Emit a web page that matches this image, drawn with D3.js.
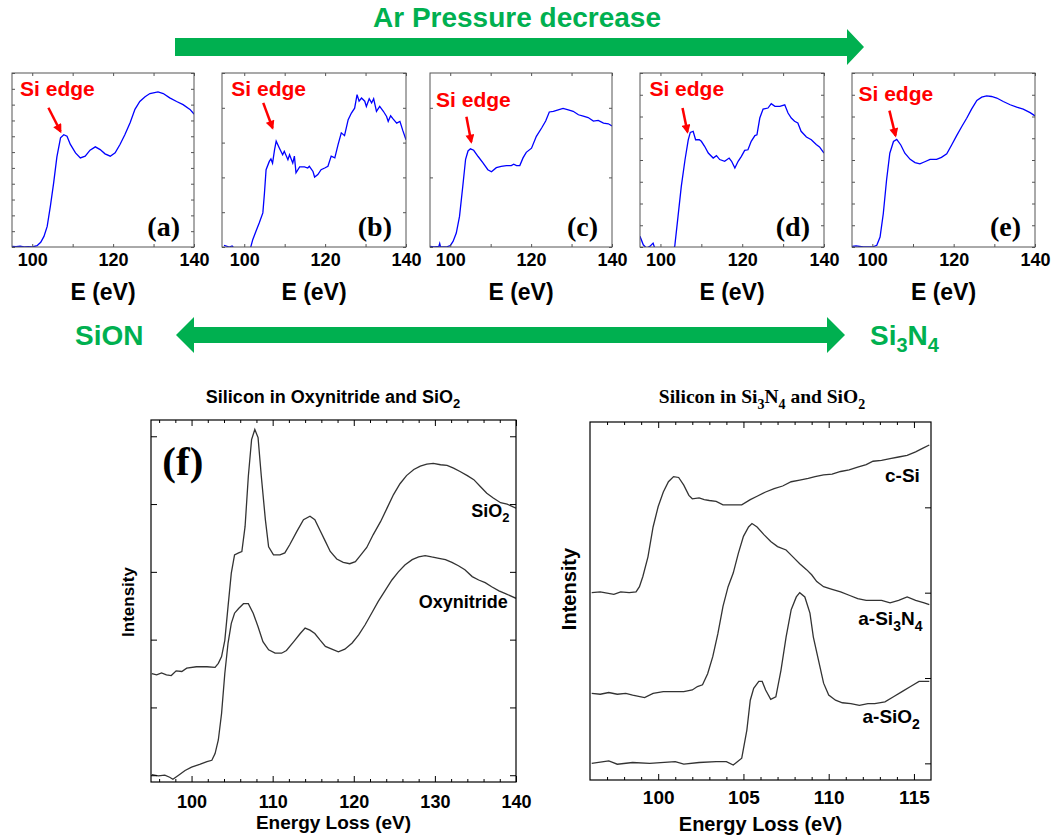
<!DOCTYPE html>
<html>
<head>
<meta charset="utf-8">
<script src="https://cdn.jsdelivr.net/npm/d3@7"></script>
<style>
  body { margin: 0; background: #fff; }
  svg text { font-family: Arial, "Liberation Sans", sans-serif; font-weight: bold; }
  svg text.serif { font-family: "Times New Roman", "Liberation Serif", serif; }
</style>
</head>
<body>
<svg id="fig" width="1057" height="839"></svg>
<script>
// ---- data: [energy (eV), intensity (arb.)] ----
var specA = [[95,0.04],[96,0.02],[97,0.06],[98,0.01],[99,0.02],[100,0],[101.2,0.08],[102.1,0.3],[102.9,0.67],[103.7,1.3],[104.5,2.6],[105.3,4.05],[106.1,5.7],[107,6.9],[107.8,7.1],[108.6,7.0],[109.4,6.5],[110.7,5.95],[111.9,5.63],[113.1,5.74],[114.3,6.12],[115.6,6.33],[116.8,6.16],[118,5.89],[119.3,5.74],[120.5,5.95],[121.7,6.48],[122.9,7.1],[124.2,7.85],[125.4,8.7],[126.6,9.2],[127.9,9.5],[129.1,9.7],[131.1,9.8],[132.4,9.7],[134,9.43],[135.7,9.2],[137.3,9.0],[139,8.7],[140,8.4]];
var specB = [[95,0.05],[96.3,0.0],[97,0.03],[98,-0.1],[100,-0.2],[101.5,-0.05],[102.1,0.21],[102.9,0.45],[103.7,0.69],[104.6,0.98],[105,1.55],[105.4,2.22],[106.2,2.46],[106.6,2.53],[107,2.41],[107.5,2.8],[107.9,3.04],[108.7,2.84],[109.5,2.65],[109.9,2.75],[110.8,2.51],[111.2,2.65],[112,2.41],[112.4,2.61],[112.8,2.13],[113.7,2.3],[114.9,2.3],[115.7,2.27],[116.1,2.32],[117,2.17],[117.4,2.01],[118.2,2.08],[119,2.22],[119.9,2.27],[120.7,2.32],[121.5,2.61],[122.4,2.56],[123.2,2.94],[124,3.28],[124.8,3.2],[125.7,3.66],[126.5,3.85],[127.3,3.99],[127.9,4.38],[128.4,4.19],[129,4.28],[129.8,4.19],[130.2,4.04],[130.9,4.26],[131.5,4.14],[132,4.26],[132.7,3.9],[133.5,4.04],[134.4,3.9],[135.2,3.75],[135.6,3.61],[136.2,3.77],[136.8,3.68],[137.7,3.56],[138.5,3.61],[139.2,3.35],[140,3.08]];
var specC = [[94.9,0.01],[96,0.0],[97.2,0.01],[97.4,0.05],[97.6,0.0],[99,0.0],[100,0.02],[100.7,0.08],[101.5,0.2],[102.3,0.44],[103.1,0.87],[103.8,1.26],[104.4,1.38],[105,1.41],[105.8,1.39],[106.9,1.3],[108.1,1.21],[109.3,1.11],[110.2,1.08],[111.4,1.14],[112.6,1.16],[113.9,1.17],[115.1,1.17],[115.7,1.19],[116.4,1.17],[117.2,1.17],[118,1.28],[118.8,1.36],[120.1,1.42],[121.3,1.59],[122.6,1.71],[123.6,1.81],[124.5,1.94],[125.5,1.95],[126.7,1.97],[127.9,1.99],[129.2,1.97],[130.4,1.95],[131.7,1.9],[132.9,1.88],[134.1,1.86],[135.4,1.81],[136.6,1.82],[137.9,1.78],[139.1,1.77],[140,1.74]];
var specD = [[95,0.49],[95.8,0.1],[96.6,-0.05],[97.4,0.03],[98.2,0.18],[98.6,-0.05],[99.8,-0.12],[103.1,-0.12],[103.5,0.03],[104.3,1.41],[105.1,2.79],[106,4.0],[106.8,4.93],[107.3,5.27],[108,5.32],[108.6,4.93],[109.5,4.93],[110,4.86],[110.8,4.63],[111.7,4.32],[112.9,4.09],[113.7,4.2],[114.5,4.02],[115.7,3.94],[116.8,4.09],[117.4,3.94],[118.2,3.63],[119,3.94],[119.8,4.17],[120.6,4.44],[121.4,4.47],[122.2,4.86],[123.1,5.12],[123.6,5.16],[124.3,5.93],[125.1,6.34],[126.3,6.39],[127.1,6.59],[128,6.47],[129.2,6.47],[130.4,6.54],[131.2,6.16],[132,5.93],[132.8,5.78],[133.6,5.7],[134.4,5.32],[135.7,5.06],[136.9,4.93],[138.1,4.71],[138.9,4.6],[140,4.32]];
var specE = [[94.9,0.03],[96,0.05],[97.8,0.0],[100,0.0],[101.1,0.08],[101.9,0.46],[102.7,1.54],[103.5,3.08],[104.3,4.31],[105.2,4.85],[106,4.95],[107,4.69],[108,4.31],[109.3,4.03],[110.5,3.88],[111.7,3.82],[112.9,3.92],[114.2,4.03],[115.8,4.03],[117,4.12],[118.3,4.28],[119.5,4.69],[120.7,5.11],[122,5.54],[123.2,5.92],[124.4,6.34],[125.7,6.74],[126.9,6.89],[128.1,6.95],[129.3,6.92],[130.6,6.85],[132.2,6.69],[133.9,6.54],[135.5,6.43],[137.1,6.34],[138.8,6.18],[140,6.03]];

var specSiO2 = [[95.1,1.5],[95.7,1.48],[96.3,1.51],[96.9,1.48],[97.5,1.47],[98.1,1.54],[98.8,1.53],[99.4,1.58],[100.6,1.6],[101.9,1.6],[102.9,1.59],[103.3,1.65],[103.7,1.75],[104.1,1.99],[104.5,2.49],[104.9,2.98],[105.3,3.25],[105.8,3.28],[106.2,3.3],[106.6,3.67],[107,4.41],[107.4,4.95],[107.8,5.1],[108.2,4.98],[108.6,4.41],[109.1,3.77],[109.5,3.37],[110.1,3.25],[110.9,3.25],[111.5,3.28],[112.1,3.4],[113,3.6],[113.8,3.77],[114.6,3.82],[115.2,3.77],[115.8,3.62],[116.5,3.45],[117.1,3.3],[117.9,3.19],[118.7,3.14],[119.5,3.12],[120.2,3.15],[120.8,3.24],[121.6,3.36],[122.4,3.55],[123.3,3.74],[124.1,3.94],[124.9,4.14],[125.7,4.3],[126.5,4.42],[127.4,4.51],[128.2,4.56],[129,4.59],[129.8,4.6],[130.7,4.58],[131.5,4.57],[132.3,4.53],[133.1,4.48],[134,4.42],[134.8,4.36],[135.6,4.26],[136.4,4.16],[137.2,4.09],[138.1,4.02],[138.9,4.0],[140,3.94]];
var specOxy = [[95.1,0.01],[95.9,-0.01],[96.7,0],[97.3,-0.03],[97.7,-0.06],[98.4,0],[99.2,0.07],[100,0.12],[101,0.16],[101.9,0.2],[102.5,0.22],[102.9,0.32],[103.3,0.52],[103.7,0.91],[104.1,1.5],[104.5,1.95],[104.9,2.24],[105.3,2.39],[105.8,2.46],[106.4,2.53],[107,2.53],[107.6,2.39],[108.2,2.19],[108.8,1.97],[109.5,1.85],[110.3,1.8],[111.1,1.8],[111.7,1.84],[112.6,1.97],[113.4,2.09],[114,2.17],[114.6,2.14],[115.2,2.09],[115.8,2.0],[116.5,1.9],[117.3,1.86],[118.1,1.82],[118.9,1.86],[119.8,1.95],[120.6,2.07],[121.4,2.22],[122.2,2.39],[123,2.56],[123.9,2.73],[124.7,2.88],[125.5,3.0],[126.3,3.1],[127.2,3.18],[128,3.22],[128.8,3.24],[129.6,3.22],[130.5,3.2],[131.3,3.18],[132.1,3.14],[132.9,3.09],[133.7,3.03],[134.6,2.93],[135.4,2.88],[136.2,2.84],[137,2.78],[137.9,2.72],[138.7,2.68],[140,2.61]];

var specCSi = [[96.1,2.0],[96.6,2.01],[97.4,1.98],[97.8,2.01],[98.3,2.0],[98.7,2.01],[98.9,2.07],[99.1,2.19],[99.4,2.42],[99.7,2.77],[100,3.01],[100.3,3.18],[100.6,3.3],[100.9,3.36],[101.2,3.35],[101.5,3.26],[101.8,3.14],[102,3.1],[102.4,3.11],[102.7,3.09],[103,3.08],[103.4,3.07],[103.8,3.03],[104.3,3.03],[104.9,3.03],[105.4,3.09],[105.8,3.13],[106.3,3.18],[106.8,3.22],[107.3,3.25],[107.8,3.3],[108.3,3.32],[108.8,3.34],[109.2,3.36],[109.7,3.38],[110.2,3.39],[110.7,3.42],[111.2,3.44],[111.7,3.47],[112.2,3.5],[112.6,3.54],[113.1,3.55],[113.6,3.57],[114.1,3.59],[114.6,3.61],[115.1,3.65],[115.5,3.69],[115.9,3.73]];
var specSiN = [[96.1,0.82],[96.6,0.81],[97.1,0.83],[97.6,0.81],[98.1,0.82],[98.5,0.8],[99.2,0.77],[99.7,0.82],[100.3,0.84],[100.9,0.84],[101.5,0.84],[102,0.86],[102.3,0.9],[102.6,0.92],[102.9,1.05],[103.2,1.25],[103.5,1.52],[103.8,1.84],[104.1,2.07],[104.4,2.23],[104.7,2.46],[105,2.66],[105.3,2.77],[105.5,2.81],[105.8,2.77],[106.2,2.68],[106.6,2.6],[107,2.54],[107.5,2.5],[107.9,2.42],[108.3,2.34],[108.7,2.27],[109,2.21],[109.3,2.13],[109.7,2.07],[110.2,2.04],[110.7,2.01],[111.2,1.97],[111.7,1.93],[112.2,1.91],[112.6,1.91],[113.1,1.91],[113.6,1.88],[114.1,1.91],[114.6,1.95],[115.1,1.91],[115.6,1.88],[115.9,1.86]];
var specASiO2 = [[96.1,0],[97.1,0.03],[97.6,-0.01],[98.5,0.01],[99.5,0],[101,0.02],[101.5,-0.01],[102.4,0.01],[103.4,0.02],[104,0.02],[104.4,-0.02],[104.9,0.06],[105.2,0.39],[105.4,0.74],[105.6,0.88],[105.9,0.96],[106.1,0.96],[106.3,0.86],[106.6,0.75],[106.9,0.78],[107.2,1.09],[107.5,1.48],[107.8,1.8],[108.1,1.95],[108.3,2.0],[108.6,1.95],[108.9,1.76],[109.1,1.48],[109.4,1.21],[109.7,0.94],[110,0.8],[110.4,0.74],[110.8,0.71],[111.3,0.7],[111.8,0.68],[112.3,0.7],[112.7,0.7],[113.3,0.72],[113.8,0.78],[114.3,0.84],[114.8,0.9],[115.3,0.96],[115.9,0.96]];

// ticks
var topTicks = [100, 110, 120, 130, 140];
var topTickLabels = [100, 120, 140];
var fTicksMajor = [100, 110, 120, 130, 140];
var fTicksMinor = [96, 98, 102, 104, 106, 108, 112, 114, 116, 118, 122, 124, 126, 128, 132, 134, 136, 138];
var gTicksMajor = [100, 105, 110, 115];
var gTicksMinor = [97, 98, 99, 101, 102, 103, 104, 106, 107, 108, 109, 111, 112, 113, 114];

var svg = d3.select("#fig");
var green = "#00b050";

var defs = svg.append("defs");
defs.append("marker")
    .attr("id", "redHead")
    .attr("viewBox", "0 0 10 10")
    .attr("refX", 8).attr("refY", 5)
    .attr("markerWidth", 10).attr("markerHeight", 9)
    .attr("markerUnits", "userSpaceOnUse")
    .attr("orient", "auto")
    .append("path")
    .attr("d", "M0,0 L10,5 L0,10 Z")
    .attr("fill", "#ff0000");

var clipCount = 0;
function clipTo(g, x, y) {
    var id = "clip" + (clipCount++);
    g.append("clipPath").attr("id", id)
        .append("rect")
        .attr("x", x.range()[0]).attr("y", y.range()[1])
        .attr("width", x.range()[1] - x.range()[0])
        .attr("height", y.range()[0] - y.range()[1]);
    return "url(#" + id + ")";
}

function styleAxis(sel, col, fs) {
    sel.select(".domain").remove();
    sel.selectAll(".tick line").attr("stroke", col);
    sel.selectAll(".tick text").attr("fill", "#000").style("font-size", fs + "px");
}

// ---- top row: panels (a)-(e) ----
function topPanel(p) {
    var x = d3.scaleLinear().domain(p.xDom).range([p.left, p.right]);
    var y = d3.scaleLinear().domain([0, p.yMax]).range([247, 73]);
    var g = svg.append("g");
    var col = "#555";

    g.append("path").datum(p.spec)
        .attr("clip-path", clipTo(g, x, y))
        .attr("fill", "none")
        .attr("stroke", "#0000ff")
        .attr("stroke-width", 1.3)
        .attr("d", d3.line().x(function(d) { return x(d[0]); }).y(function(d) { return y(d[1]); }));

    var yt = d3.range(0, p.yMax + 0.01, 1);
    g.append("g").attr("transform", "translate(0,247)")
        .call(d3.axisBottom(x).tickValues(topTicks).tickSize(-3).tickSizeOuter(0).tickPadding(6)
            .tickFormat(function(d) { return topTickLabels.indexOf(d) >= 0 ? d : ""; }))
        .call(styleAxis, col, 18);
    g.append("g").attr("transform", "translate(0,73)")
        .call(d3.axisTop(x).tickValues(topTicks).tickSize(-3).tickSizeOuter(0).tickFormat(""))
        .call(styleAxis, col, 18);
    g.append("g").attr("transform", "translate(" + p.left + ",0)")
        .call(d3.axisLeft(y).tickValues(yt).tickSize(-3).tickSizeOuter(0).tickFormat(""))
        .call(styleAxis, col, 18);
    g.append("g").attr("transform", "translate(" + p.right + ",0)")
        .call(d3.axisRight(y).tickValues(yt).tickSize(-3).tickSizeOuter(0).tickFormat(""))
        .call(styleAxis, col, 18);

    g.append("rect")
        .attr("x", p.left).attr("y", 73)
        .attr("width", p.right - p.left).attr("height", 174)
        .attr("fill", "none").attr("stroke", col).attr("stroke-width", 1);

    g.append("text")
        .attr("x", (p.left + p.right) / 2).attr("y", 300)
        .attr("text-anchor", "middle")
        .style("font-size", "23px")
        .text("E (eV)");

    g.append("text").attr("class", "serif")
        .attr("x", p.right - 14).attr("y", 236)
        .attr("text-anchor", "end")
        .style("font-size", "28px")
        .text(p.name);

    // "Si edge" note + red arrow
    g.append("text")
        .attr("x", x(p.note[0])).attr("y", y(p.note[1]))
        .attr("fill", "#ff0000")
        .style("font-size", "21px")
        .text("Si edge");
    g.append("line")
        .attr("x1", x(p.arrow[0])).attr("y1", y(p.arrow[1]))
        .attr("x2", x(p.arrow[2])).attr("y2", y(p.arrow[3]))
        .attr("stroke", "#ff0000").attr("stroke-width", 2.5)
        .attr("marker-end", "url(#redHead)");
}

topPanel({ left: 12,  right: 194,  xDom: [95, 140],   yMax: 11,  spec: specA, name: "(a)", note: [97, 9.56],   arrow: [104, 8.8, 107, 7.3] });
topPanel({ left: 222, right: 406,  xDom: [94.5, 140], yMax: 5,   spec: specB, name: "(b)", note: [96.8, 4.34], arrow: [104.7, 4.14, 107, 3.42] });
topPanel({ left: 430, right: 612,  xDom: [95, 140],   yMax: 2.5, spec: specC, name: "(c)", note: [96.5, 2.01], arrow: [104, 1.87, 105.2, 1.51] });
topPanel({ left: 640, right: 824,  xDom: [95, 140],   yMax: 8,   spec: specD, name: "(d)", note: [97.3, 6.94], arrow: [105.4, 6.39, 106.6, 5.29] });
topPanel({ left: 852, right: 1035, xDom: [95, 140],   yMax: 8,   spec: specE, name: "(e)", note: [96.6, 6.73], arrow: [104.2, 6.27, 105.7, 5.12] });

// ---- green annotations ----
svg.append("text")
    .attr("x", 517).attr("y", 27)
    .attr("text-anchor", "middle")
    .attr("fill", green)
    .style("font-size", "28px")
    .text("Ar Pressure decrease");

svg.append("path")
    .attr("d", "M175,38 L847,38 L847,29 L864,47 L847,65 L847,56 L175,56 Z")
    .attr("fill", green);

svg.append("path")
    .attr("d", "M176,335 L194,317 L194,327 L827,327 L827,317 L845,335 L827,353 L827,343 L194,343 L194,353 Z")
    .attr("fill", green);

svg.append("text")
    .attr("x", 75).attr("y", 345)
    .attr("fill", green)
    .style("font-size", "28px")
    .text("SiON");

var si3n4 = svg.append("text")
    .attr("x", 870).attr("y", 345)
    .attr("fill", green)
    .style("font-size", "28px");
si3n4.append("tspan").text("Si");
si3n4.append("tspan").attr("dy", 7).style("font-size", "20px").text("3");
si3n4.append("tspan").attr("dy", -7).text("N");
si3n4.append("tspan").attr("dy", 7).style("font-size", "20px").text("4");

// ---- bottom panels ----
// parts: plain strings, or {sub: "2"} for a subscript
function subText(g, x, y, parts, fs, anchor, cls) {
    var t = g.append("text").attr("x", x).attr("y", y)
        .attr("text-anchor", anchor || "start")
        .style("font-size", fs + "px");
    if (cls) t.attr("class", cls);
    var shift = 0;
    parts.forEach(function(s) {
        if (typeof s === "string") {
            t.append("tspan").attr("dy", -shift).text(s);
            shift = 0;
        } else {
            var d = Math.round(fs * 0.3);
            t.append("tspan").attr("dy", d - shift).style("font-size", Math.round(fs * 0.72) + "px").text(s.sub);
            shift = d;
        }
    });
    return t;
}

function bottomPanel(p) {
    var x = d3.scaleLinear().domain(p.xDom).range([p.left, p.right]);
    var y = d3.scaleLinear().domain(p.yDom).range([p.bottom, p.top]);
    var g = svg.append("g");
    var line = d3.line().x(function(d) { return x(d[0]); }).y(function(d) { return y(d[1]); });
    var clip = clipTo(g, x, y);

    p.series.forEach(function(s) {
        g.append("path").datum(s)
            .attr("clip-path", clip)
            .attr("fill", "none")
            .attr("stroke", "#333")
            .attr("stroke-width", 1.3)
            .attr("d", line);
    });

    var bx = g.append("g").attr("transform", "translate(0," + p.bottom + ")");
    bx.append("g").call(d3.axisBottom(x).tickValues(p.major).tickSize(-6).tickSizeOuter(0).tickPadding(p.pad).tickFormat(d3.format("d")))
        .call(styleAxis, "#000", p.tickFs);
    bx.append("g").call(d3.axisBottom(x).tickValues(p.minor).tickSize(-3).tickSizeOuter(0).tickFormat(""))
        .call(styleAxis, "#000", p.tickFs);
    var tx = g.append("g").attr("transform", "translate(0," + p.top + ")");
    tx.append("g").call(d3.axisTop(x).tickValues(p.major).tickSize(-6).tickSizeOuter(0).tickFormat(""))
        .call(styleAxis, "#000", p.tickFs);
    tx.append("g").call(d3.axisTop(x).tickValues(p.minor).tickSize(-3).tickSizeOuter(0).tickFormat(""))
        .call(styleAxis, "#000", p.tickFs);
    if (p.leftTicks) {
        g.append("g").attr("transform", "translate(" + p.left + ",0)")
            .call(d3.axisLeft(y).tickValues(p.yTicks).tickSize(-6).tickSizeOuter(0).tickFormat(""))
            .call(styleAxis, "#000", p.tickFs);
    }
    g.append("g").attr("transform", "translate(" + p.right + ",0)")
        .call(d3.axisRight(y).tickValues(p.yTicks).tickSize(-6).tickSizeOuter(0).tickFormat(""))
        .call(styleAxis, "#000", p.tickFs);

    g.append("rect")
        .attr("x", p.left).attr("y", p.top)
        .attr("width", p.right - p.left).attr("height", p.bottom - p.top)
        .attr("fill", "none").attr("stroke", "#000").attr("stroke-width", 1.2);

    g.append("text")
        .attr("x", (p.left + p.right) / 2).attr("y", p.xTitleY)
        .attr("text-anchor", "middle")
        .style("font-size", p.titleFs + "px")
        .text("Energy Loss (eV)");
    g.append("text")
        .attr("transform", "translate(" + p.yTitleX + "," + p.yTitleY + ") rotate(-90)")
        .attr("text-anchor", "middle")
        .style("font-size", p.yFs + "px")
        .text("Intensity");

    subText(g, p.titleX, 403, p.title, p.headFs, "middle", p.headCls);

    p.labels.forEach(function(l) {
        subText(g, x(l.at[0]), y(l.at[1]), l.parts, p.labelFs, "end");
    });
    return { g: g, x: x, y: y };
}

var pf = bottomPanel({
    left: 151, right: 516, top: 420, bottom: 782,
    xDom: [95, 140], yDom: [-0.1, 5.24], yTicks: [0, 1, 2, 3, 4, 5],
    major: fTicksMajor, minor: fTicksMinor, pad: 13, tickFs: 18,
    leftTicks: true,
    series: [specSiO2, specOxy],
    xTitleY: 829, titleFs: 19, yTitleX: 134, yTitleY: 602, yFs: 17,
    titleX: 333, title: ["Silicon in Oxynitride and SiO", { sub: "2" }], headFs: 18,
    labelFs: 18,
    labels: [
        { at: [139.2, 3.81], parts: ["SiO", { sub: "2" }] },
        { at: [139.0, 2.47], parts: ["Oxynitride"] }
    ]
});
pf.g.append("text").attr("class", "serif")
    .attr("x", pf.x(96.4)).attr("y", pf.y(4.43))
    .style("font-size", "41px")
    .text("(f)");

bottomPanel({
    left: 590, right: 931, top: 422, bottom: 780,
    xDom: [96, 116], yDom: [-0.195, 4.0], yTicks: [0, 1, 2, 3],
    major: gTicksMajor, minor: gTicksMinor, pad: 11, tickFs: 19,
    leftTicks: false,
    series: [specCSi, specSiN, specASiO2],
    xTitleY: 831, titleFs: 20, yTitleX: 576, yTitleY: 589, yFs: 20,
    titleX: 762, title: ["Silicon in Si", { sub: "3" }, "N", { sub: "4" }, " and SiO", { sub: "2" }], headFs: 19.5, headCls: "serif",
    labelFs: 19,
    labels: [
        { at: [115.35, 3.3], parts: ["c-Si"] },
        { at: [115.5, 1.62], parts: ["a-Si", { sub: "3" }, "N", { sub: "4" }] },
        { at: [115.35, 0.47], parts: ["a-SiO", { sub: "2" }] }
    ]
});
</script>
</body>
</html>
